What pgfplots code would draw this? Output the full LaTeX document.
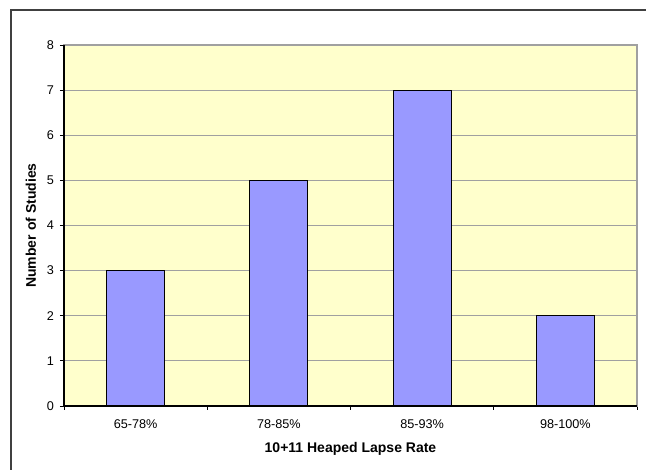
\documentclass[border=0pt]{standalone}
\usepackage{pgfplots}
\pgfplotsset{compat=1.18}
\usepackage{fontspec}
\setmainfont{Liberation Sans}
\definecolor{plotbg}{HTML}{FFFFCC}
\definecolor{barfill}{HTML}{9999FF}
\definecolor{gridgray}{HTML}{A0A0A0}
\definecolor{framegray}{HTML}{404040}
\begin{document}
\begin{tikzpicture}
% page: 646 x 470 units of 0.75pt
\useasboundingbox (0,0) rectangle (484.5pt,352.5pt);
\fill[white] (0,0) rectangle (484.5pt,352.5pt);
% chart frame (left and top edges)
\draw[framegray, line width=1.2pt] (8.25pt,0pt) -- (8.25pt,345pt) -- (484.5pt,345pt);
\begin{axis}[
  at={(48pt,48pt)}, anchor=south west,
  scale only axis,
  width=429.75pt, height=270.75pt,
  xmin=-0.5, xmax=3.5,
  ymin=0, ymax=8,
  ytick={0,1,...,8},
  xtick={0,1,2,3},
  xticklabels={65-78\%,78-85\%,85-93\%,98-100\%},
  minor xtick={-0.5,0.5,1.5,2.5,3.5},
  major x tick style={draw=none},
  xtick pos=bottom, ytick pos=left,
  tick align=outside,
  major tick length=3pt,
  minor tick length=3pt,
  tick style={black, line width=0.6pt},
  ymajorgrids,
  grid style={gridgray, line width=0.8pt},
  axis line style={draw=gridgray, line width=0.8pt},
  axis background/.style={fill=plotbg},
  tick label style={font=\fontsize{9.5}{10}\selectfont},
  /pgf/number format/assume math mode=true,
  xticklabel style={yshift=-4pt},
  yticklabel style={xshift=-1pt},
  xlabel={10+11 Heaped Lapse Rate},
  ylabel={Number of Studies},
  label style={font=\fontsize{10.5}{12}\selectfont\bfseries},
  xlabel style={at={(axis description cs:0.5,-0.119)}, anchor=center},
  ylabel style={at={(axis description cs:-0.0576,0.5)}, anchor=center},
  ybar, bar width=43.5pt,
  clip=false,
]
\addplot[fill=barfill, draw=black, line width=0.7pt] coordinates {(0,3) (1,5) (2,7) (3,2)};
\draw[black, line width=0.9pt] (rel axis cs:0,1) -- (rel axis cs:0,0) -- (rel axis cs:1,0);
\end{axis}
\end{tikzpicture}
\end{document}
